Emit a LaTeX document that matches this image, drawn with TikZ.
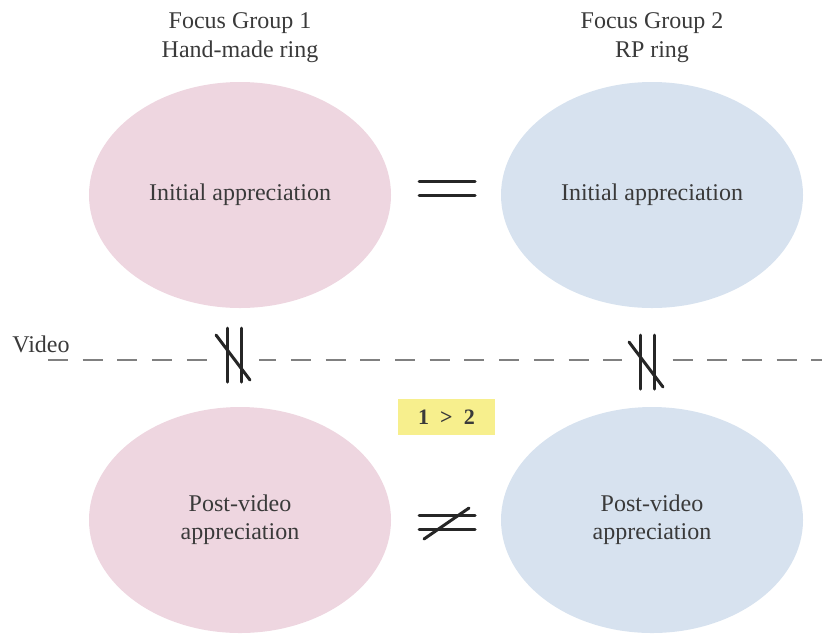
\documentclass[tikz,border=0pt]{standalone}
\usepackage{fontspec}
\setmainfont{Liberation Serif}
\usepackage{xcolor}
\usetikzlibrary{shapes.geometric,positioning,calc}
\definecolor{ringpink}{HTML}{EED6E0}
\definecolor{ringblue}{HTML}{D7E2EF}
\definecolor{markyellow}{HTML}{F7EF8D}
\definecolor{inkgray}{HTML}{3A3A3A}

\begin{document}
\begin{tikzpicture}[
    x=0.5pt, y=-0.5pt,
    every node/.style={text=inkgray, font=\fontsize{12}{14}\selectfont},
    blob/.style={ellipse, minimum width=151pt, minimum height=113pt, inner sep=0pt, align=center},
    head/.style={anchor=north, inner sep=0pt, align=center, font=\fontsize{12}{14.5}\selectfont},
    sym/.style={draw=black!85, line width=1.5pt, line cap=round},
    videoline/.style={draw=gray, line width=1pt, dash pattern=on 10pt off 7.35pt}
]
    \useasboundingbox (0,0) rectangle (822,633);

    % Group headings
    \node [head] (g1) at (240,12) {Focus Group 1\\Hand-made ring};
    \node [head] (g2) at (652,12) {Focus Group 2\\RP ring};

    % Appreciation ellipses
    \node [blob, fill=ringpink] (i1) at (240,195) {Initial appreciation};
    \node [blob, fill=ringblue] (i2) at (652,195) {Initial appreciation};
    \node [blob, fill=ringpink] (p1) at (240,520) {Post-video\\appreciation};
    \node [blob, fill=ringblue] (p2) at (652,520) {Post-video\\appreciation};

    % Video line
    \node [anchor=base, inner sep=0pt] (video) at (41,352) {Video};
    \coordinate (vstart) at (48,360);
    \coordinate (vend) at (822,360);
    \draw [videoline] (vstart) -- (vend);

    % Not parallel marks on the video line
    \coordinate (np1) at (234,355);
    \coordinate (np2) at (647,362);
    \foreach \n in {np1,np2} {
        \fill [white] ($(\n)+(-25,-6)$) rectangle ($(\n)+(25,6)$);
        \draw [sym] ($(\n)+(-7,-27)$) -- ($(\n)+(-7,27)$);
        \draw [sym] ($(\n)+(7,-27)$) -- ($(\n)+(7,27)$);
        \draw [sym] ($(\n)+(-18,-20)$) -- ($(\n)+(16,25)$);
    }

    % Equal and not equal
    \coordinate (eq) at (447,188);
    \coordinate (ne) at (447,522);
    \foreach \n in {eq,ne} {
        \draw [sym] ($(\n)+(-28,-7)$) -- ($(\n)+(28,-7)$);
        \draw [sym] ($(\n)+(-28,7)$) -- ($(\n)+(28,7)$);
    }
    \draw [sym] ($(ne)+(-23,17)$) -- ($(ne)+(22,-14)$);

    % Result
    \node [fill=markyellow, minimum width=48.5pt, minimum height=18pt, inner sep=0pt,
           font=\bfseries\fontsize{11}{13}\selectfont] (res) at (446.5,417) {1\enspace>\enspace2};
\end{tikzpicture}
\end{document}
